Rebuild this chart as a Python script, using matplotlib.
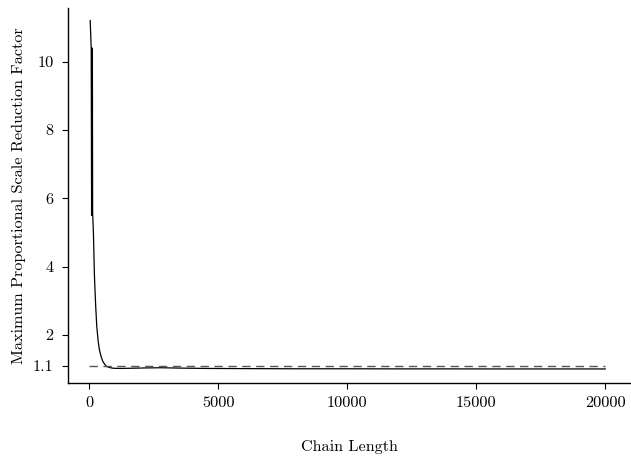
import numpy as np
import matplotlib
matplotlib.use('Agg')
import matplotlib.pyplot as plt

# Data (Gelman-Rubin style shrink plot)
chain_length = [40, 80, 95, 105, 115, 125, 135, 165, 205, 250, 295, 345, 397,
                460, 530, 600, 682, 800, 940, 1200, 1600, 2200, 2800, 3500, 4500,
                6000, 8000, 10000, 12000, 14000, 16000, 18000, 20000]
max_psrf = [11.2, 10.4, 5.5, 10.4, 5.5, 10.35, 5.6, 5.0, 3.73, 2.9, 2.26, 1.85, 1.57,
            1.38, 1.23, 1.15, 1.08, 1.05, 1.03, 1.025, 1.03, 1.04, 1.045, 1.035, 1.025,
            1.02, 1.015, 1.015, 1.012, 1.012, 1.01, 1.01, 1.01]
threshold = 1.1
xticks = [0, 5000, 10000, 15000, 20000]
yticks = [1.1, 2, 4, 6, 8, 10]
ytick_labels = ['1.1', '2', '4', '6', '8', '10']

plt.rcParams['font.family'] = 'serif'
plt.rcParams['font.serif'] = ['cmr10', 'DejaVu Serif']
plt.rcParams['mathtext.fontset'] = 'cm'
plt.rcParams['axes.formatter.use_mathtext'] = True

fig = plt.figure(figsize=(6.31, 4.57), dpi=100)
ax = fig.add_axes([0.108, 0.162, 0.892, 0.82])

ax.plot(chain_length, max_psrf, color='black', linewidth=0.9)
ax.plot([0, 20000], [threshold, threshold], color='#555555', linestyle=(0, (6, 4)), linewidth=1.0)

ax.set_xlim(-814, 21000)
ax.set_ylim(0.6, 11.56)
ax.set_xticks(xticks)
ax.set_xticklabels([str(t) for t in xticks], fontsize=11.7)
ax.set_yticks(yticks)
ax.set_yticklabels(ytick_labels, fontsize=11.7)

for s in ['top', 'right']:
    ax.spines[s].set_visible(False)
ax.spines['left'].set_linewidth(1.0)
ax.spines['bottom'].set_linewidth(1.0)
ax.tick_params(axis='x', direction='out', length=4.5, pad=5)
ax.tick_params(axis='y', direction='out', length=4.5, pad=6)

ax.set_xlabel('Chain Length', fontsize=11.7, labelpad=22)
ax.set_ylabel('Maximum Proportional Scale Reduction Factor', fontsize=11.7, labelpad=5)

fig.savefig('out.png', dpi=100)
